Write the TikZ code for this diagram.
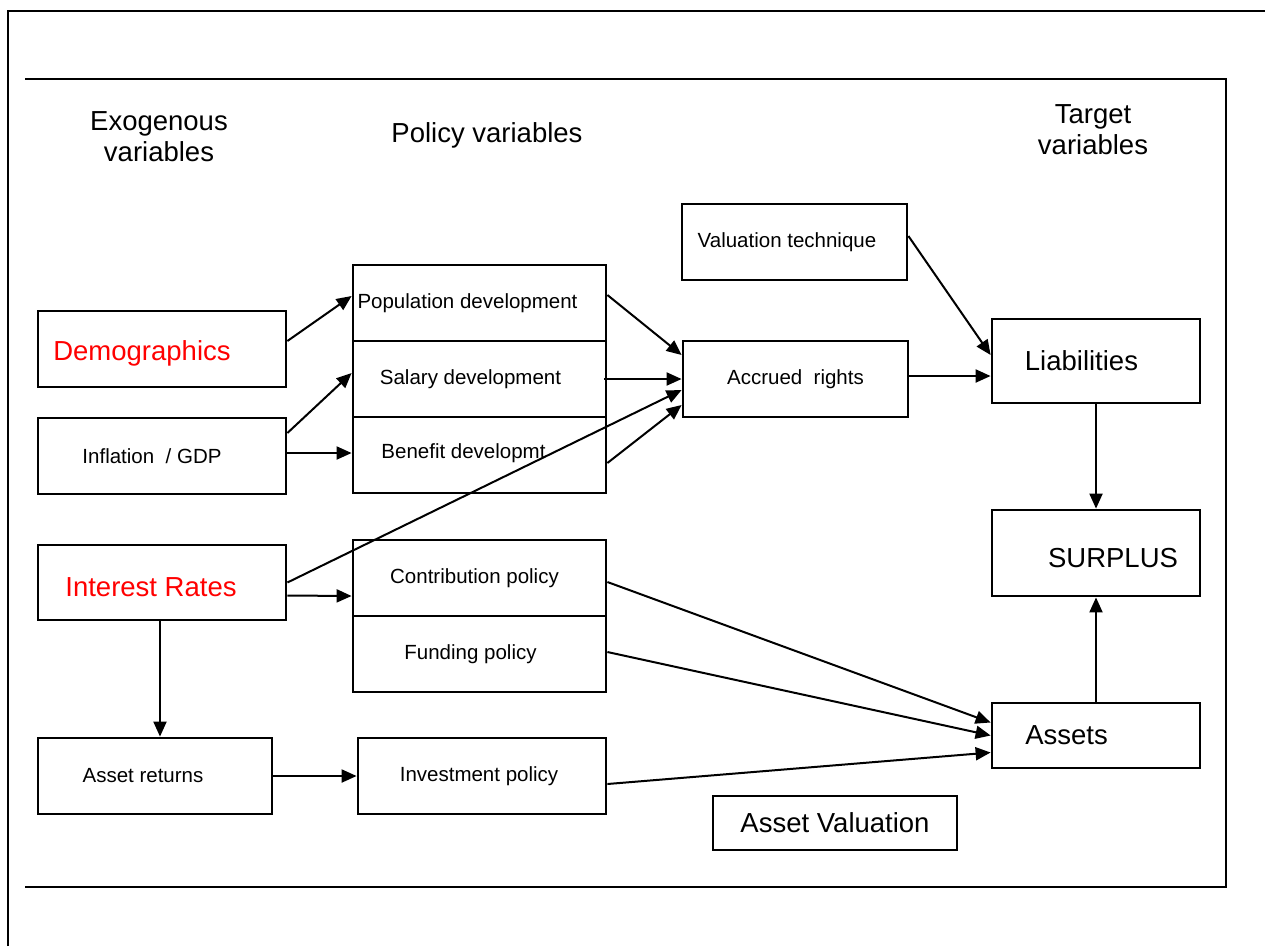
\documentclass[tikz,border=0pt]{standalone}
\usepackage{fontspec}
\setmainfont{Liberation Sans}
\usetikzlibrary{arrows.meta}
\begin{document}
\begin{tikzpicture}[x=1pt,y=-1pt]

      \tikzset{box/.style={draw, line width=2.8pt, inner sep=0pt, minimum width=#1, minimum height=76pt, font=\fontsize{20.5}{24}\selectfont},
               big/.style={font=\fontsize{27.5}{31}\selectfont},
               arr/.style={line width=2pt, -{Triangle[length=15pt,width=13pt]}},
               frame/.style={line width=2pt}}
      \useasboundingbox (0,0) rectangle (1265,946);
% Frames
      	\draw[frame] (8,946) -- (8,11) -- (1265,11);
      	\draw[frame] (25,79) -- (1226,79) -- (1226,887) -- (25,887);
% Headings
      	\node[big, align=center] (hexo) at (159,137) {Exogenous\\variables};
      	\node[big] (hpol) at (487,135) {Policy variables};
      	\node[big, align=center] (htar) at (1093,130) {Target\\variables};
% Boxes
	%Exogenous
      	\node[box=248pt, big, text=red] (demo) at (162,349) {\raisebox{-4pt}[\height][\depth]{Demographics}\hspace*{40pt}};
      	\node[box=248pt] (infl) at (162,456) {Inflation\ \ / GDP\hspace*{20pt}};
      	\node[box=248pt, minimum height=75pt, big, text=red] (irate) at (162,582.5) {\raisebox{-5pt}[\height][\depth]{Interest Rates}\hspace*{22pt}};
      	\node[box=234pt] (aret) at (155,776) {Asset returns\hspace*{24pt}};
	%Policy
      	\node[box=253pt] (popdev) at (479.5,303) {Population development\hspace*{24pt}};
      	\node[box=253pt] (saldev) at (479.5,379) {Salary development\hspace*{18pt}};
      	\node[box=253pt] (bendev) at (479.5,455) {\raisebox{2pt}[\height][\depth]{Benefit developmt}\hspace*{32pt}};
      	\node[box=253pt] (contr) at (479.5,578) {Contribution policy\hspace*{10pt}};
      	\node[box=253pt] (fund) at (479.5,654) {Funding policy\hspace*{18pt}};
      	\node[box=248pt] (invest) at (482,776) {Investment policy\hspace*{6pt}};
	%Target
      	\node[box=225pt] (valtech) at (794.5,242) {Valuation technique\hspace*{15pt}};
      	\node[box=225pt] (accr) at (795.5,379) {Accrued\ \ rights};
      	\node[box=208pt, minimum height=84pt, big] (liab) at (1096,361) {Liabilities\hspace*{29pt}};
      	\node[box=208pt, minimum height=86pt, big] (surp) at (1096,553) {\hspace*{34pt}\raisebox{-5pt}[\height][\depth]{SURPLUS}};
      	\node[box=208pt, minimum height=65pt, big] (assets) at (1096,735.5) {Assets\hspace*{59pt}};
      	\node[box=244pt, minimum height=54pt, big] (aval) at (835,823) {Asset Valuation};
% Arrows
	%Exogenous to policy
		\draw[arr] ([yshift=8pt]demo.east) -- ([yshift=7pt]popdev.west);
		\draw[arr] ([yshift=23pt]infl.east) -- ([yshift=6pt]saldev.west);
		\draw[arr] ([yshift=3pt]infl.east) -- ([yshift=3pt]infl.east -| bendev.west);
		\draw[arr] ([yshift=-13pt]irate.east) -- ([yshift=-18pt]contr.west);
		\draw[arr] ([xshift=-2pt]irate.south) -- ([xshift=-2pt]irate.south |- aret.north);
		\draw[arr] (aret.east) -- (invest.west);
	%To accrued rights
		\draw[arr] ([yshift=8pt]popdev.east) -- ([yshift=24pt]accr.west);
		\draw[arr] ([xshift=-3pt]saldev.east) -- (accr.west);
		\draw[arr] (irate.east) -- ([yshift=-11pt]accr.west);
		\draw[arr] ([yshift=-8pt]bendev.east) -- ([yshift=-26pt]accr.west);
	%To liabilities and surplus
		\draw[arr] ([yshift=3pt]accr.east) -- ([yshift=3pt]accr.east -| liab.west);
		\draw[arr] ([yshift=6pt]valtech.east) -- ([yshift=6pt]liab.west);
		\draw[arr] (liab.south) -- (surp.north);
		\draw[arr] (assets.north) -- (surp.south);
	%To assets
		\draw[arr] ([yshift=-4pt]contr.east) -- ([yshift=13pt]assets.west);
		\draw[arr] ([yshift=2pt]fund.east) -- (assets.west);
		\draw[arr] ([yshift=-8pt]invest.east) -- ([yshift=-17pt]assets.west);

	\end{tikzpicture}
\end{document}
